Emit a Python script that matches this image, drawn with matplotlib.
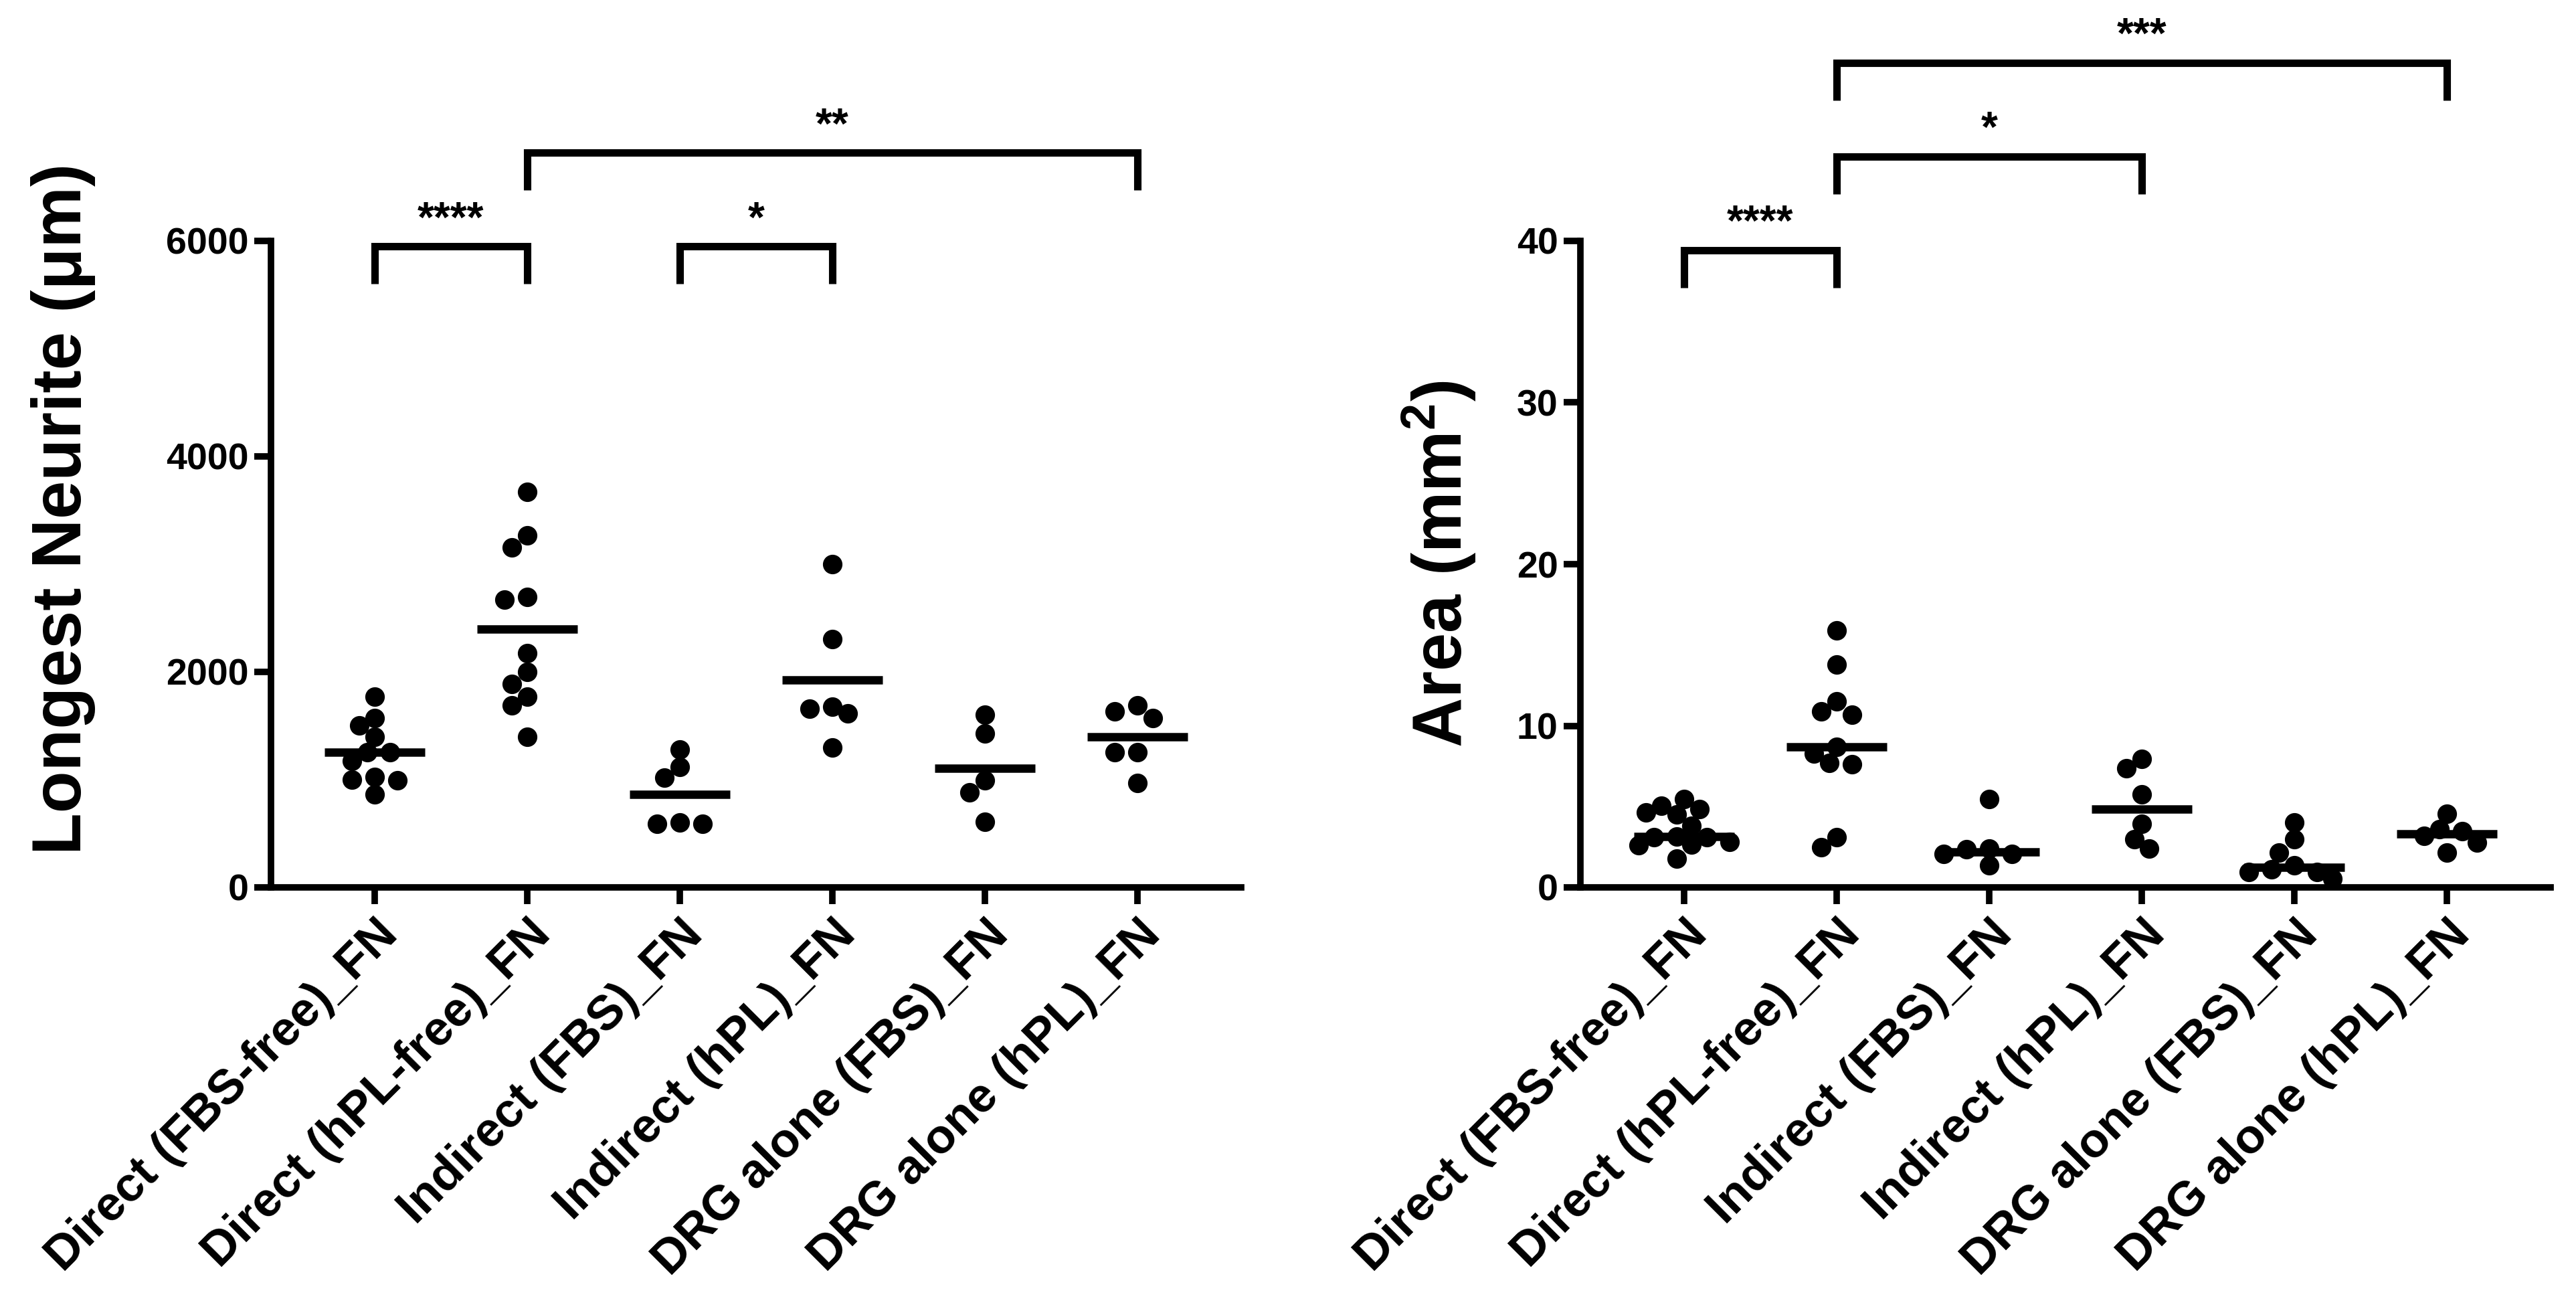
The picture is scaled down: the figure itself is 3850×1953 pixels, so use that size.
import numpy as np
import matplotlib.pyplot as plt

plt.rcParams['font.family'] = ['Liberation Sans', 'DejaVu Sans']
plt.rcParams['font.weight'] = 'bold'
plt.rcParams['mathtext.fontset'] = 'custom'
plt.rcParams['mathtext.bf'] = 'Liberation Sans:bold'
plt.rcParams['mathtext.rm'] = 'Liberation Sans:bold'

groups = ["Direct (FBS-free)_FN", "Direct (hPL-free)_FN", "Indirect (FBS)_FN",
          "Indirect (hPL)_FN", "DRG alone (FBS)_FN", "DRG alone (hPL)_FN"]

# longest neurite, um (line = mean)
neurite = [
    [1770, 1570, 1504, 1395, 1256, 1256, 1177, 1025, 994, 1003, 863],
    [3672, 3270, 3153, 2695, 2673, 2172, 1997, 1888, 1770, 1692, 1400],
    [1278, 1116, 1016, 602, 593, 593],
    [3000, 2302, 1679, 1657, 1613, 1299],
    [1605, 1430, 994, 885, 610],
    [1692, 1635, 1570, 1256, 1256, 972],
]
# area, mm2 (line = median)
area = [
    [5.46, 5.05, 4.84, 4.63, 4.50, 3.80, 3.15, 3.10, 3.10, 2.80, 2.65, 2.60, 1.80],
    [15.9, 13.8, 11.5, 10.9, 10.7, 8.7, 8.3, 7.7, 7.6, 3.1, 2.5],
    [5.46, 2.42, 2.35, 2.07, 2.07, 1.38],
    [7.97, 7.36, 5.75, 3.94, 3.0, 2.42],
    [4.01, 2.97, 2.14, 1.38, 1.1, 0.97, 0.97, 0.55],
    [4.56, 3.6, 3.46, 3.18, 2.77, 2.14],
]

neurite_ticks = [0, 2000, 4000, 6000]
area_ticks = [0, 10, 20, 30, 40]

# (group a, group b, bracket height, stars)
neurite_sig = [(0, 1, 5950, "****"), (2, 3, 5950, "*"), (1, 5, 6820, "**")]
area_sig = [(0, 1, 39.4, "****"), (1, 3, 45.2, "*"), (1, 5, 51.0, "***")]

W, H, DPI = 3850, 1953, 100
fig = plt.figure(figsize=(W / DPI, H / DPI), dpi=DPI)

ax_w = 1450 / W
ax_h = 966 / H
bottom = 1 - 1326 / H
ax1 = fig.add_axes([405 / W, bottom, ax_w, ax_h])
ax2 = fig.add_axes([2362 / W, bottom, ax_w, ax_h])

XMIN, XMAX = -0.68, 5.68
px_per_x = 1450 / (XMAX - XMIN)


def swarm(values, px_per_y, d=27.0):
    # simple column-scatter packing, offsets returned in x data units
    vals = np.asarray(values, dtype=float)
    order = np.argsort(vals)[::-1]
    h = 0.42 * d
    cands = [0.0]
    for k in range(1, 15):
        cands += [-k * h, k * h]
    placed = []
    offs = np.zeros(len(vals))
    for i in order:
        y = vals[i] * px_per_y
        for c in cands:
            if all((c - px) ** 2 + (y - py) ** 2 >= (0.92 * d) ** 2 for px, py in placed):
                break
        placed.append((c, y))
        offs[i] = c / px_per_x
    return offs


def panel(ax, data, ticks, sig, center, ylabel, label_xy, leg, star_gap):
    ymax = ticks[-1]
    ppy = 966 / ymax
    for i, vals in enumerate(data):
        offs = swarm(vals, ppy)
        ax.plot(i + offs, vals, 'o', color='black', ms=20, mec='black',
                clip_on=False, zorder=3)
        ax.hlines(center(vals), i - 0.33, i + 0.33, color='black', lw=9,
                  zorder=4)
    for a, b, y, stars in sig:
        ax.plot([a, a, b, b], [y - leg, y, y, y - leg], color='black', lw=8,
                solid_capstyle='butt', solid_joinstyle='miter', clip_on=False)
        ax.text((a + b) / 2, y + star_gap, stars, ha='center', va='center',
                fontsize=46, fontweight='bold', clip_on=False)

    ax.set_xlim(XMIN, XMAX)
    ax.set_ylim(0, ymax)
    ax.set_yticks(ticks)
    ax.set_xticks(range(len(groups)))
    ax.set_xticklabels(groups, rotation=45, ha='right', va='top',
                       rotation_mode='anchor', fontsize=52)
    for s in ['top', 'right']:
        ax.spines[s].set_visible(False)
    for s in ['left', 'bottom']:
        ax.spines[s].set_linewidth(7)
    ax.tick_params(axis='both', direction='out', length=18, width=7, pad=6)
    ax.tick_params(axis='y', labelsize=40)
    ax.tick_params(axis='x', pad=8)
    for t in ax.get_xticklabels() + ax.get_yticklabels():
        t.set_fontweight('bold')
    ax.set_ylabel(ylabel, fontsize=74, fontweight='bold')
    ax.yaxis.set_label_coords(*label_xy)


panel(ax1, neurite, neurite_ticks, neurite_sig, np.mean,
      "Longest Neurite (\u03bcm)", (-0.181, 0.585), 350, 240)
panel(ax2, area, area_ticks, area_sig, np.median,
      r"Area (mm$^\mathbf{2}$)", (-0.105, 0.5), 2.3, 1.65)

fig.savefig("out.png", dpi=DPI, facecolor='white')
